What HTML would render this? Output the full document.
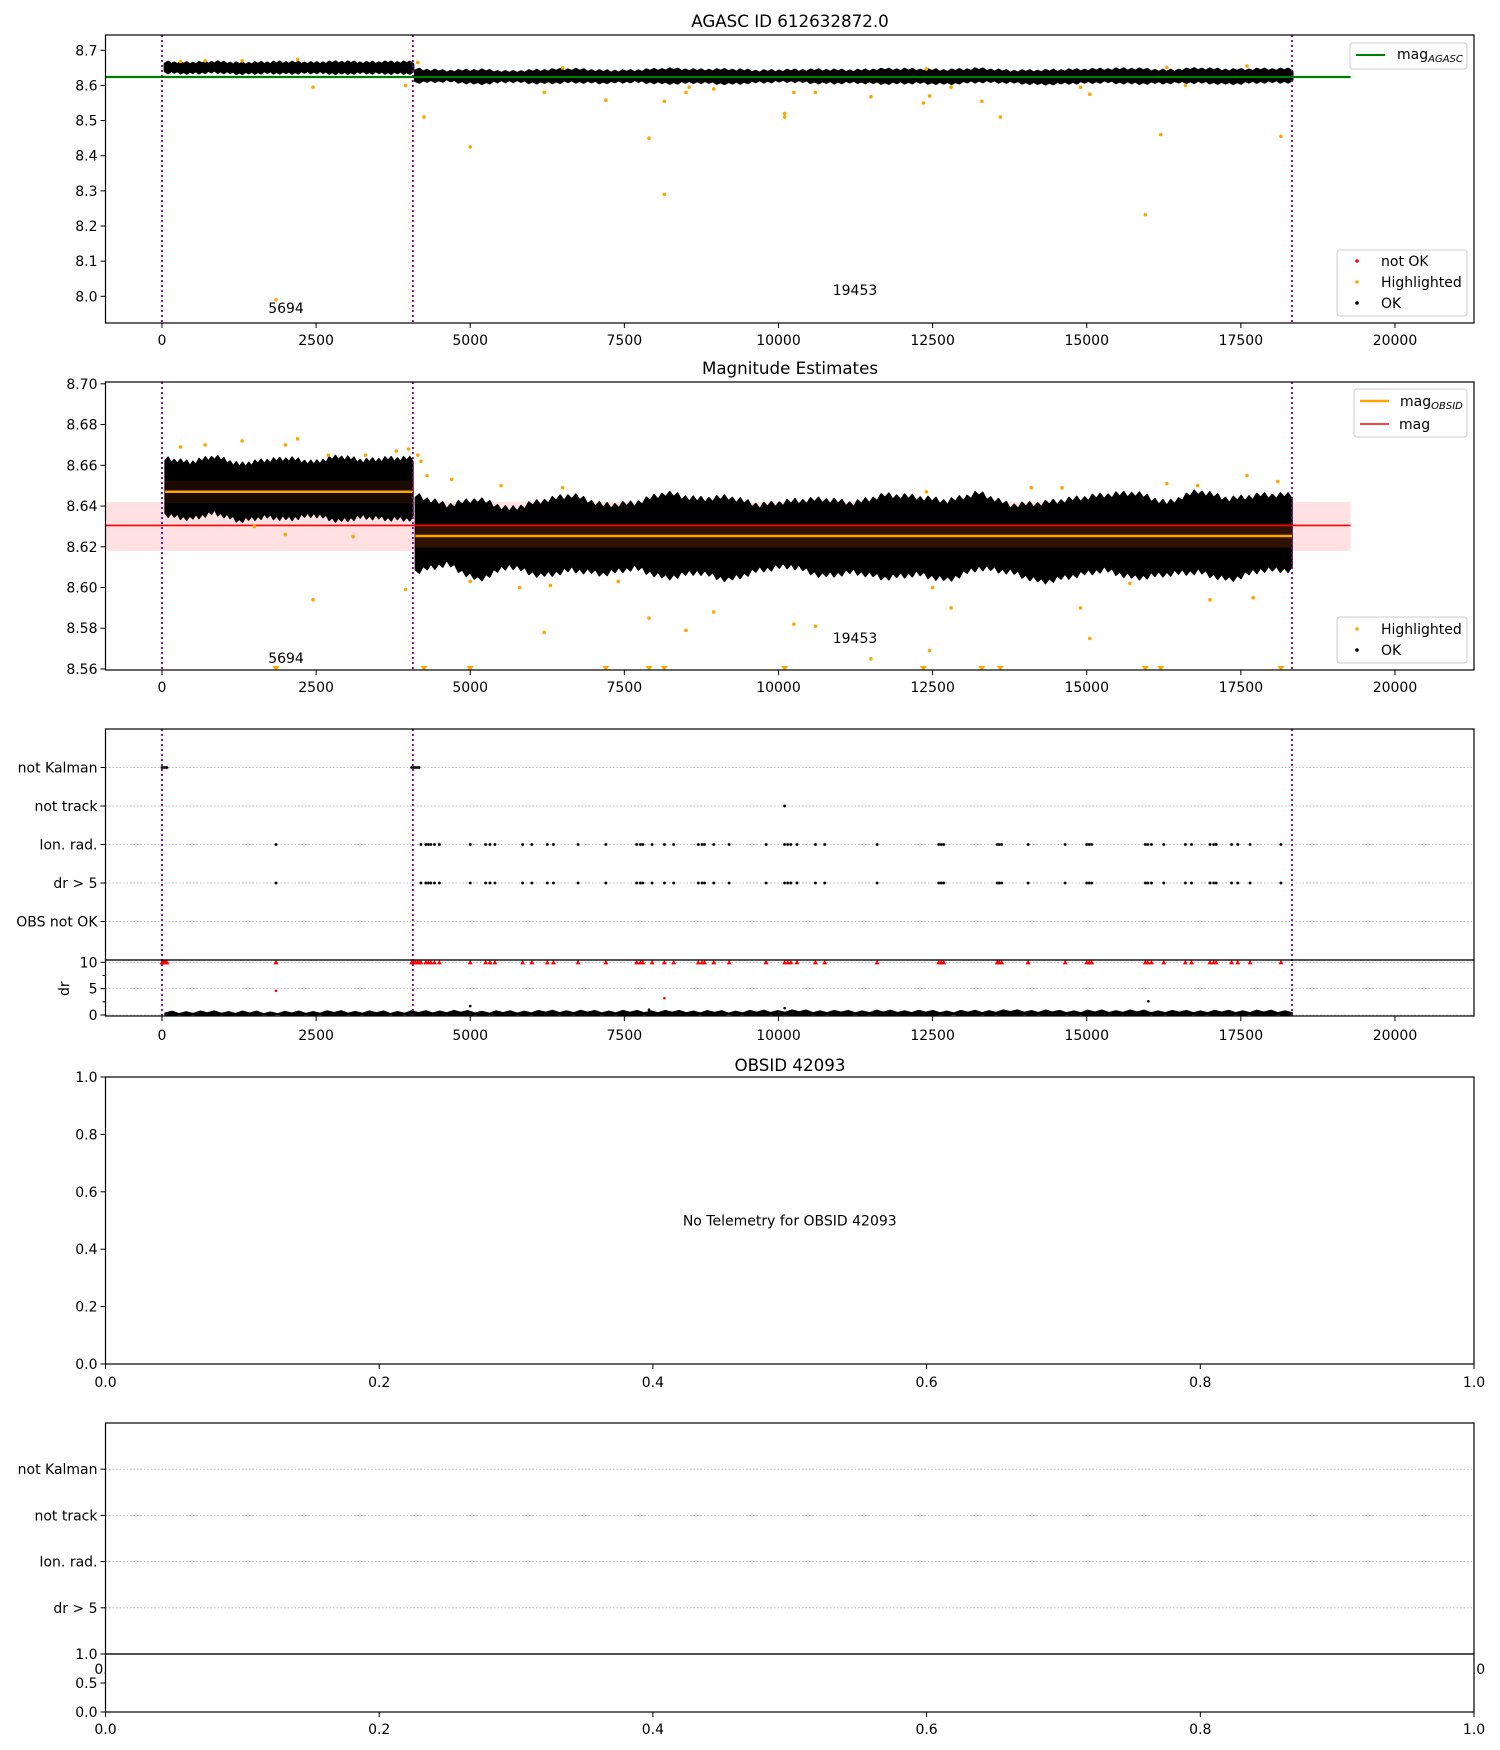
<!DOCTYPE html>
<html><head><meta charset="utf-8"><title>AGASC 612632872 magnitude report</title>
<style>
html,body{margin:0;padding:0;background:#fff;}
svg{display:block;font-family:"DejaVu Sans","Liberation Sans",sans-serif;}
</style></head>
<body>
<svg id="fig" width="1500" height="1750" viewBox="0 0 1500 1750" xmlns="http://www.w3.org/2000/svg"></svg>
<script>
// ---------- data ----------
const obsBreaks = [0, 4070, 18330];
const obsLabels = ["5694", "19453"];
const magAgasc = 8.624;
const magMean = 8.6305;
const magBandLo = 8.618;
const magBandHi = 8.642;
const magObsid = [8.647, 8.6253];
const magObsidStd = [0.0055, 0.0057];
// cloud envelopes (segment A: 0-4070, segment B: 4070-18330)
const upperA = [8.663,8.661,8.664,8.660,8.662,8.663,8.661,8.664,8.662,8.663];
const lowerA = [8.636,8.634,8.637,8.633,8.635,8.634,8.636,8.633,8.635,8.634];
const upperB = [8.645,8.640,8.643,8.638,8.642,8.645,8.640,8.641,8.646,8.643,8.644,8.640,8.642,8.643,8.641,8.645,8.644,8.642,8.646,8.640,8.641,8.643,8.645,8.646,8.641,8.647,8.643,8.645];
const lowerB = [8.608,8.612,8.604,8.611,8.606,8.609,8.607,8.610,8.605,8.608,8.604,8.609,8.611,8.606,8.608,8.605,8.607,8.604,8.610,8.608,8.603,8.606,8.609,8.605,8.607,8.608,8.604,8.609];
// highlighted points, top panel
const hiX1 = [1850,2450,3950,4250,5000,6200,7200,7900,8150,8150,8500,8550,8950,10100,10100,10250,10600,11500,12350,12450,12800,13300,13600,14900,15050,15950,16200,16600,18150,300,700,1300,2200,4150,6500,12400,16300,17600];
const hiY1 = [7.99,8.595,8.60,8.51,8.425,8.58,8.558,8.45,8.555,8.29,8.58,8.595,8.59,8.52,8.51,8.58,8.58,8.568,8.55,8.57,8.595,8.555,8.51,8.595,8.575,8.232,8.46,8.6,8.455,8.668,8.67,8.67,8.674,8.665,8.65,8.647,8.651,8.655];
// highlighted points, magnitude panel
const hiX2 = [7900,8500,8950,6200,10250,10600,11500,12450,12800,14900,15050,2450,3950,300,700,1300,2000,2200,2700,3300,3800,4000,4150,4700,5500,6500,12400,14100,14600,16300,16800,17600,18100,5000,5800,6300,7400,12500,15700,17000,17700,1500,2000,3100,4200,4300];
const hiY2 = [8.585,8.579,8.588,8.578,8.582,8.581,8.565,8.569,8.59,8.59,8.575,8.594,8.599,8.669,8.670,8.672,8.670,8.673,8.665,8.665,8.667,8.668,8.665,8.653,8.650,8.649,8.647,8.649,8.649,8.651,8.650,8.655,8.652,8.603,8.600,8.601,8.603,8.600,8.602,8.594,8.595,8.630,8.626,8.625,8.662,8.655];
// out-of-range (clipped) points in magnitude panel
const clipX2 = [1850,4250,5000,7200,7900,8150,10100,12350,13300,13600,15950,16200,18150];
// flags
const notKalmanX = [0,20,40,60,80,4050,4080,4110,4140,4170];
const notTrackX = [10100];
const ionX = [1850,4200,4280,4320,4360,4420,4500,5000,5250,5320,5400,5850,6000,6250,6350,6750,7200,7700,7760,7800,7950,8150,8300,8700,8760,8800,8950,9200,9800,10100,10150,10200,10300,10600,10750,11600,12600,12640,12680,13550,13580,13620,14050,14650,15000,15040,15080,15950,15990,16050,16250,16600,16700,17000,17060,17100,17350,17450,17650,18150];
const drSpikeX = [1850, 8150];
const drSpikeY = [4.6, 3.2];
const drOkSpikeX = [5000, 7900, 10100, 16000];
const drOkSpikeY = [1.7, 1.0, 1.3, 2.6];
const drUpper = [0.45,0.50,0.42,0.55,0.48,0.60,0.52,0.65,0.58,0.62,0.55,0.70,0.60,0.66,0.58,0.72,0.62,0.68,0.60,0.64];
const drLower = [0.02,0.00,0.03,0.01,0.02,0.00,0.03,0.01,0.02,0.00,0.03,0.01,0.02,0.00,0.03,0.01,0.02,0.00,0.03,0.01];
const flagLabels = ["OBS not OK","dr > 5","Ion. rad.","not track","not Kalman"];
const flagLabels2 = ["dr > 5","Ion. rad.","not track","not Kalman"];
const xTicks = [0,2500,5000,7500,10000,12500,15000,17500,20000];
const yTicks1 = [8.0,8.1,8.2,8.3,8.4,8.5,8.6,8.7];
const yTicks2 = [8.56,8.58,8.60,8.62,8.64,8.66,8.68,8.70];
const unitTicks = [0,0.2,0.4,0.6,0.8,1.0];
const halfTicks = [0,0.5,1.0];
const drTicks = [0,5,10];

// ---------- helpers ----------
const NS = "http://www.w3.org/2000/svg";
const svg = document.getElementById("fig");
function add(parent, tag, attrs){ const e=document.createElementNS(NS,tag); for(const k in attrs) e.setAttribute(k,attrs[k]); parent.appendChild(e); return e; }
function txt(parent, x, y, s, attrs){ const e=add(parent,"text",Object.assign({x:x,y:y,"font-size":14,fill:"#000"},attrs||{})); e.textContent=s; return e; }
function lin(d0,d1,p0,p1){ return v => p0+(v-d0)/(d1-d0)*(p1-p0); }
const L=105.5, R=1474, XMIN=-916, XMAX=21282;
const sx = lin(XMIN,XMAX,L,R);

function frame(g, top, bot){
  const r = add(g,"rect",{x:L,y:top,width:R-L,height:bot-top,fill:"none",stroke:"#000","stroke-width":1.2});
  
  
}
function xAxis(g, bot, ticks, scale, fmt, labY){
  ticks.forEach(t=>{
    const x=scale(t);
    add(g,"line",{x1:x,x2:x,y1:bot,y2:bot+5,stroke:"#000","stroke-width":1});
    const e=txt(g,x,labY,fmt(t),{"text-anchor":"middle"});
    
    
  });
}
function yAxis(g, ticks, scale, fmt){
  ticks.forEach(t=>{
    const y=scale(t);
    add(g,"line",{x1:L-5,x2:L,y1:y,y2:y,stroke:"#000","stroke-width":1});
    const e=txt(g,L-8,y+5,fmt(t),{"text-anchor":"end"});
    
    
  });
}
function vlines(g, top, bot){
  obsBreaks.forEach(b=>{
    const l=add(g,"line",{x1:sx(b),x2:sx(b),y1:top,y2:bot,stroke:"#800080","stroke-width":1.8,"stroke-dasharray":"2,3"});
    
    
  });
}
// envelope path with fine visual zigzag texture between data bins
function edge(sy, x0, x1, arr, sign, amp){
  const n=arr.length, pts=[];
  const sub=8;
  for(let i=0;i<=n*sub;i++){
    const f=i/(n*sub);
    const k=Math.min(n-1,Math.floor(f*n));
    const k2=Math.min(n-1,k+1);
    const t=f*n-k;
    const v=arr[k]*(1-t)+arr[k2]*t;
    const z=(i%2?1:-1)*amp*sign*((i%3)?1:0.5);
    pts.push([sx(x0+(x1-x0)*f), sy(v)+z]);
  }
  return pts;
}
function cloud(g, sy, x0, x1, up, lo, sw, amp){
  const u=edge(sy,x0,x1,up,-1,amp), l=edge(sy,x0,x1,lo,1,amp).reverse();
  const p=add(g,"polygon",{points:u.concat(l).map(q=>q[0].toFixed(1)+","+q[1].toFixed(1)).join(" "),fill:"#000",stroke:"#000","stroke-width":sw,"stroke-linejoin":"round"});
  
  
}
function legendBox(g,x,y,w,h){
  const r=add(g,"rect",{x:x,y:y,width:w,height:h,rx:3,fill:"#fff","fill-opacity":0.8,stroke:"#ccc","stroke-width":1});
  
  
}
function subLabel(g,x,y,sub){
  const e=add(g,"text",{x:x,y:y,"font-size":14,fill:"#000"});
  e.appendChild(document.createTextNode("mag"));
  const ts=add(e,"tspan",{"font-size":10,"font-style":"italic",dy:3});
  ts.textContent=sub;
  return e;
}
function clipFor(id, top, bot){
  const cp=add(svg,"clipPath",{id:id});
  add(cp,"rect",{x:L,y:top,width:R-L,height:bot-top});
  return "url(#"+id+")";
}

// ---------- Panel 1: AGASC ----------
(function(){
  const top=35, bot=323;
  const sy=lin(7.924,8.7435,bot,top);
  const g=add(svg,"g",{});
  
  
  const t=txt(g,790,27,"AGASC ID 612632872.0",{"text-anchor":"middle","font-size":16.7});
  
  
  const pg=add(g,"g",{"clip-path":clipFor("c1",top,bot)});
  cloud(pg,sy,50,obsBreaks[1],upperA,lowerA.map(v=>v+0.004),3,1.2);
  cloud(pg,sy,obsBreaks[1]+40,obsBreaks[2],upperB.map(v=>v-0.002),lowerB.map(v=>v+0.004),3,1.2);
  const gl=add(pg,"line",{x1:sx(XMIN),x2:sx(19280),y1:sy(magAgasc),y2:sy(magAgasc),stroke:"#008000","stroke-width":2.2});
  
  
  hiX1.forEach((x,i)=>{
    const c=add(pg,"circle",{cx:sx(x),cy:sy(hiY1[i]),r:1.8,fill:"orange"});
    
    
  });
  vlines(pg,top,bot);
  const a=txt(g,sx(1850)+10,313,obsLabels[0],{"text-anchor":"middle"});
  
  
  const b=txt(g,855,295,obsLabels[1],{"text-anchor":"middle"});
  
  
  frame(g,top,bot);
  xAxis(g,bot,xTicks,sx,String,345);
  yAxis(g,yTicks1,sy,v=>v.toFixed(1));
  legendBox(g,1350,43,117,26);
  add(g,"line",{x1:1356,x2:1385,y1:55,y2:55,stroke:"#008000","stroke-width":2});
  const l1=subLabel(g,1397,59,"AGASC");
  
  
  legendBox(g,1337,250,130,66);
  [["red","not OK",261],["orange","Highlighted",282],["#000","OK",303]].forEach(e=>{
    add(g,"circle",{cx:1357,cy:e[2],r:1.8,fill:e[0]});
    const lt=txt(g,1381,e[2]+5,e[1]);
    
    
  });
})();

// ---------- Panel 2: Magnitude estimates ----------
(function(){
  const top=382, bot=670;
  const sy=lin(8.5595,8.7009,bot,top);
  const g=add(svg,"g",{});
  
  
  const t=txt(g,790,374,"Magnitude Estimates",{"text-anchor":"middle","font-size":16.7});
  
  
  const pg=add(g,"g",{"clip-path":clipFor("c2",top,bot)});
  const band=add(pg,"rect",{x:sx(XMIN),y:sy(magBandHi),width:sx(19280)-sx(XMIN),height:sy(magBandLo)-sy(magBandHi),fill:"#ffe0e3"});
  
  
  cloud(pg,sy,50,obsBreaks[1],upperA,lowerA,1.5,2.5);
  cloud(pg,sy,obsBreaks[1]+40,obsBreaks[2],upperB,lowerB,1.5,3);
  [[50,obsBreaks[1]],[obsBreaks[1]+40,obsBreaks[2]]].forEach((s,i)=>{
    const r=add(pg,"rect",{x:sx(s[0]),y:sy(magObsid[i]+magObsidStd[i]),width:sx(s[1])-sx(s[0]),height:sy(magObsid[i]-magObsidStd[i])-sy(magObsid[i]+magObsidStd[i]),fill:i?"#2f1200":"#1a0a00"});
    
    
  });
  const rl=add(pg,"line",{x1:sx(XMIN),x2:sx(19280),y1:sy(magMean),y2:sy(magMean),stroke:"red","stroke-width":1.6});
  
  
  [[50,obsBreaks[1]],[obsBreaks[1]+40,obsBreaks[2]]].forEach((s,i)=>{
    const ol=add(pg,"line",{x1:sx(s[0]),x2:sx(s[1]),y1:sy(magObsid[i]),y2:sy(magObsid[i]),stroke:"orange","stroke-width":2.5});
    
    
  });
  hiX2.forEach((x,i)=>{
    const c=add(pg,"circle",{cx:sx(x),cy:sy(hiY2[i]),r:1.8,fill:"orange"});
    
    
  });
  clipX2.forEach(x=>{
    const X=sx(x), Y=sy(8.5595);
    const p=add(pg,"polygon",{points:(X-3.5)+","+(Y-4)+" "+(X+3.5)+","+(Y-4)+" "+X+","+(Y+1),fill:"orange"});
    
    
  });
  vlines(pg,top,bot);
  const a=txt(g,sx(1850)+10,663,obsLabels[0],{"text-anchor":"middle"});
  
  
  const b=txt(g,855,643,obsLabels[1],{"text-anchor":"middle"});
  
  
  frame(g,top,bot);
  xAxis(g,bot,xTicks,sx,String,692);
  yAxis(g,yTicks2,sy,v=>v.toFixed(2));
  legendBox(g,1354,389,113,48);
  add(g,"line",{x1:1360,x2:1389,y1:401,y2:401,stroke:"orange","stroke-width":2.5});
  const l1=subLabel(g,1400,406,"OBSID");
  
  
  add(g,"line",{x1:1360,x2:1389,y1:424,y2:424,stroke:"red","stroke-width":1.6});
  const l2=txt(g,1399,429,"mag");
  
  
  legendBox(g,1337,617,130,46);
  [["orange","Highlighted",629],["#000","OK",650]].forEach(e=>{
    add(g,"circle",{cx:1357,cy:e[2],r:1.8,fill:e[0]});
    const lt=txt(g,1381,e[2]+5,e[1]);
    
    
  });
})();

// ---------- Panel 3: flags + dr ----------
(function(){
  const top=729, mid=960, bot=1016;
  const fy=lin(0,6,mid,top);
  const dy=lin(-0.19,10.44,bot,mid);
  const g=add(svg,"g",{});
  
  
  const pg=add(g,"g",{"clip-path":clipFor("c3",top,bot)});
  flagLabels.forEach((s,i)=>{
    add(pg,"line",{x1:L,x2:R,y1:fy(i+1),y2:fy(i+1),stroke:"#aaa","stroke-width":0.8,"stroke-dasharray":"1.5,2"});
  });
  drTicks.forEach(t=>add(pg,"line",{x1:L,x2:R,y1:dy(t),y2:dy(t),stroke:"#aaa","stroke-width":0.8,"stroke-dasharray":"1.5,2"}));
  function dots(xs,row){ xs.forEach(x=>{
    const c=add(pg,"circle",{cx:sx(x),cy:fy(row),r:1.4,fill:"#000",stroke:"#555","stroke-width":0.4});
    
    
  });}
  dots(notKalmanX,5); dots(notTrackX,4); dots(ionX,3); dots(ionX,2);
  const u=edge(dy,50,obsBreaks[2],drUpper,-1,1.2), lo=edge(dy,50,obsBreaks[2],drLower,1,0.5).reverse();
  const band=add(pg,"polygon",{points:u.concat(lo).map(q=>q[0].toFixed(1)+","+q[1].toFixed(1)).join(" "),fill:"#000",stroke:"#000","stroke-width":1.5});
  
  
  drOkSpikeX.forEach((x,i)=>{
    const c=add(pg,"circle",{cx:sx(x),cy:dy(drOkSpikeY[i]),r:1.3,fill:"#000"});
    
    
  });
  notKalmanX.concat(ionX).forEach(x=>{
    const X=sx(x), Y=dy(10);
    const p=add(pg,"polygon",{points:(X-2.5)+","+(Y+2)+" "+(X+2.5)+","+(Y+2)+" "+X+","+(Y-2.5),fill:"red"});
    
    
  });
  drSpikeX.forEach((x,i)=>{
    const c=add(pg,"circle",{cx:sx(x),cy:dy(drSpikeY[i]),r:1.3,fill:"red"});
    
    
  });
  vlines(pg,top,bot);
  frame(g,top,mid);
  frame(g,mid,bot);
  flagLabels.forEach((s,i)=>{
    const y=fy(i+1);
    add(g,"line",{x1:L-5,x2:L,y1:y,y2:y,stroke:"#000"});
    const e=txt(g,L-8,y+5,s,{"text-anchor":"end"});
    
    
  });
  yAxis(g,drTicks,dy,String);
  [2.5,7.5].forEach(t=>add(g,"line",{x1:L-3,x2:L,y1:dy(t),y2:dy(t),stroke:"#000"}));
  const yl=txt(g,0,0,"dr",{"text-anchor":"middle",transform:"translate(69,"+dy(5)+") rotate(-90)"});
  
  
  xAxis(g,bot,xTicks,sx,String,1040);
})();

// ---------- Panel 4: OBSID empty ----------
(function(){
  const top=1077, bot=1364;
  const ux=lin(0,1,L,R), uy=lin(0,1,bot,top);
  const g=add(svg,"g",{});
  
  
  const t=txt(g,790,1071,"OBSID 42093",{"text-anchor":"middle","font-size":16.7});
  
  
  frame(g,top,bot);
  xAxis(g,bot,unitTicks,ux,v=>v.toFixed(1),1387);
  yAxis(g,unitTicks,uy,v=>v.toFixed(1));
  const m=txt(g,ux(0.5),uy(0.5)+5,"No Telemetry for OBSID 42093",{"text-anchor":"middle"});
  
  
})();

// ---------- Panel 5: empty flags ----------
(function(){
  const top=1423, mid=1654, bot=1712;
  const ux=lin(0,1,L,R), fy=lin(1,6,mid,top), sy=lin(0,1,bot,mid);
  const g=add(svg,"g",{});
  
  
  flagLabels2.forEach((s,i)=>{
    const y=fy(i+2);
    add(g,"line",{x1:L,x2:R,y1:y,y2:y,stroke:"#aaa","stroke-width":0.8,"stroke-dasharray":"1.5,2"});
    add(g,"line",{x1:L-5,x2:L,y1:y,y2:y,stroke:"#000"});
    const e=txt(g,L-8,y+5,s,{"text-anchor":"end"});
    
    
  });
  [0,1].forEach(v=>{ txt(g,ux(v),1674,v.toFixed(1),{"text-anchor":"middle"}); });
  const cover=add(g,"rect",{x:L,y:mid,width:R-L,height:bot-mid,fill:"#fff"});
  
  
  frame(g,top,mid);
  frame(g,mid,bot);
  yAxis(g,halfTicks,sy,v=>v.toFixed(1));
  xAxis(g,bot,unitTicks,ux,v=>v.toFixed(1),1734);
})();
</script>
</body></html>
